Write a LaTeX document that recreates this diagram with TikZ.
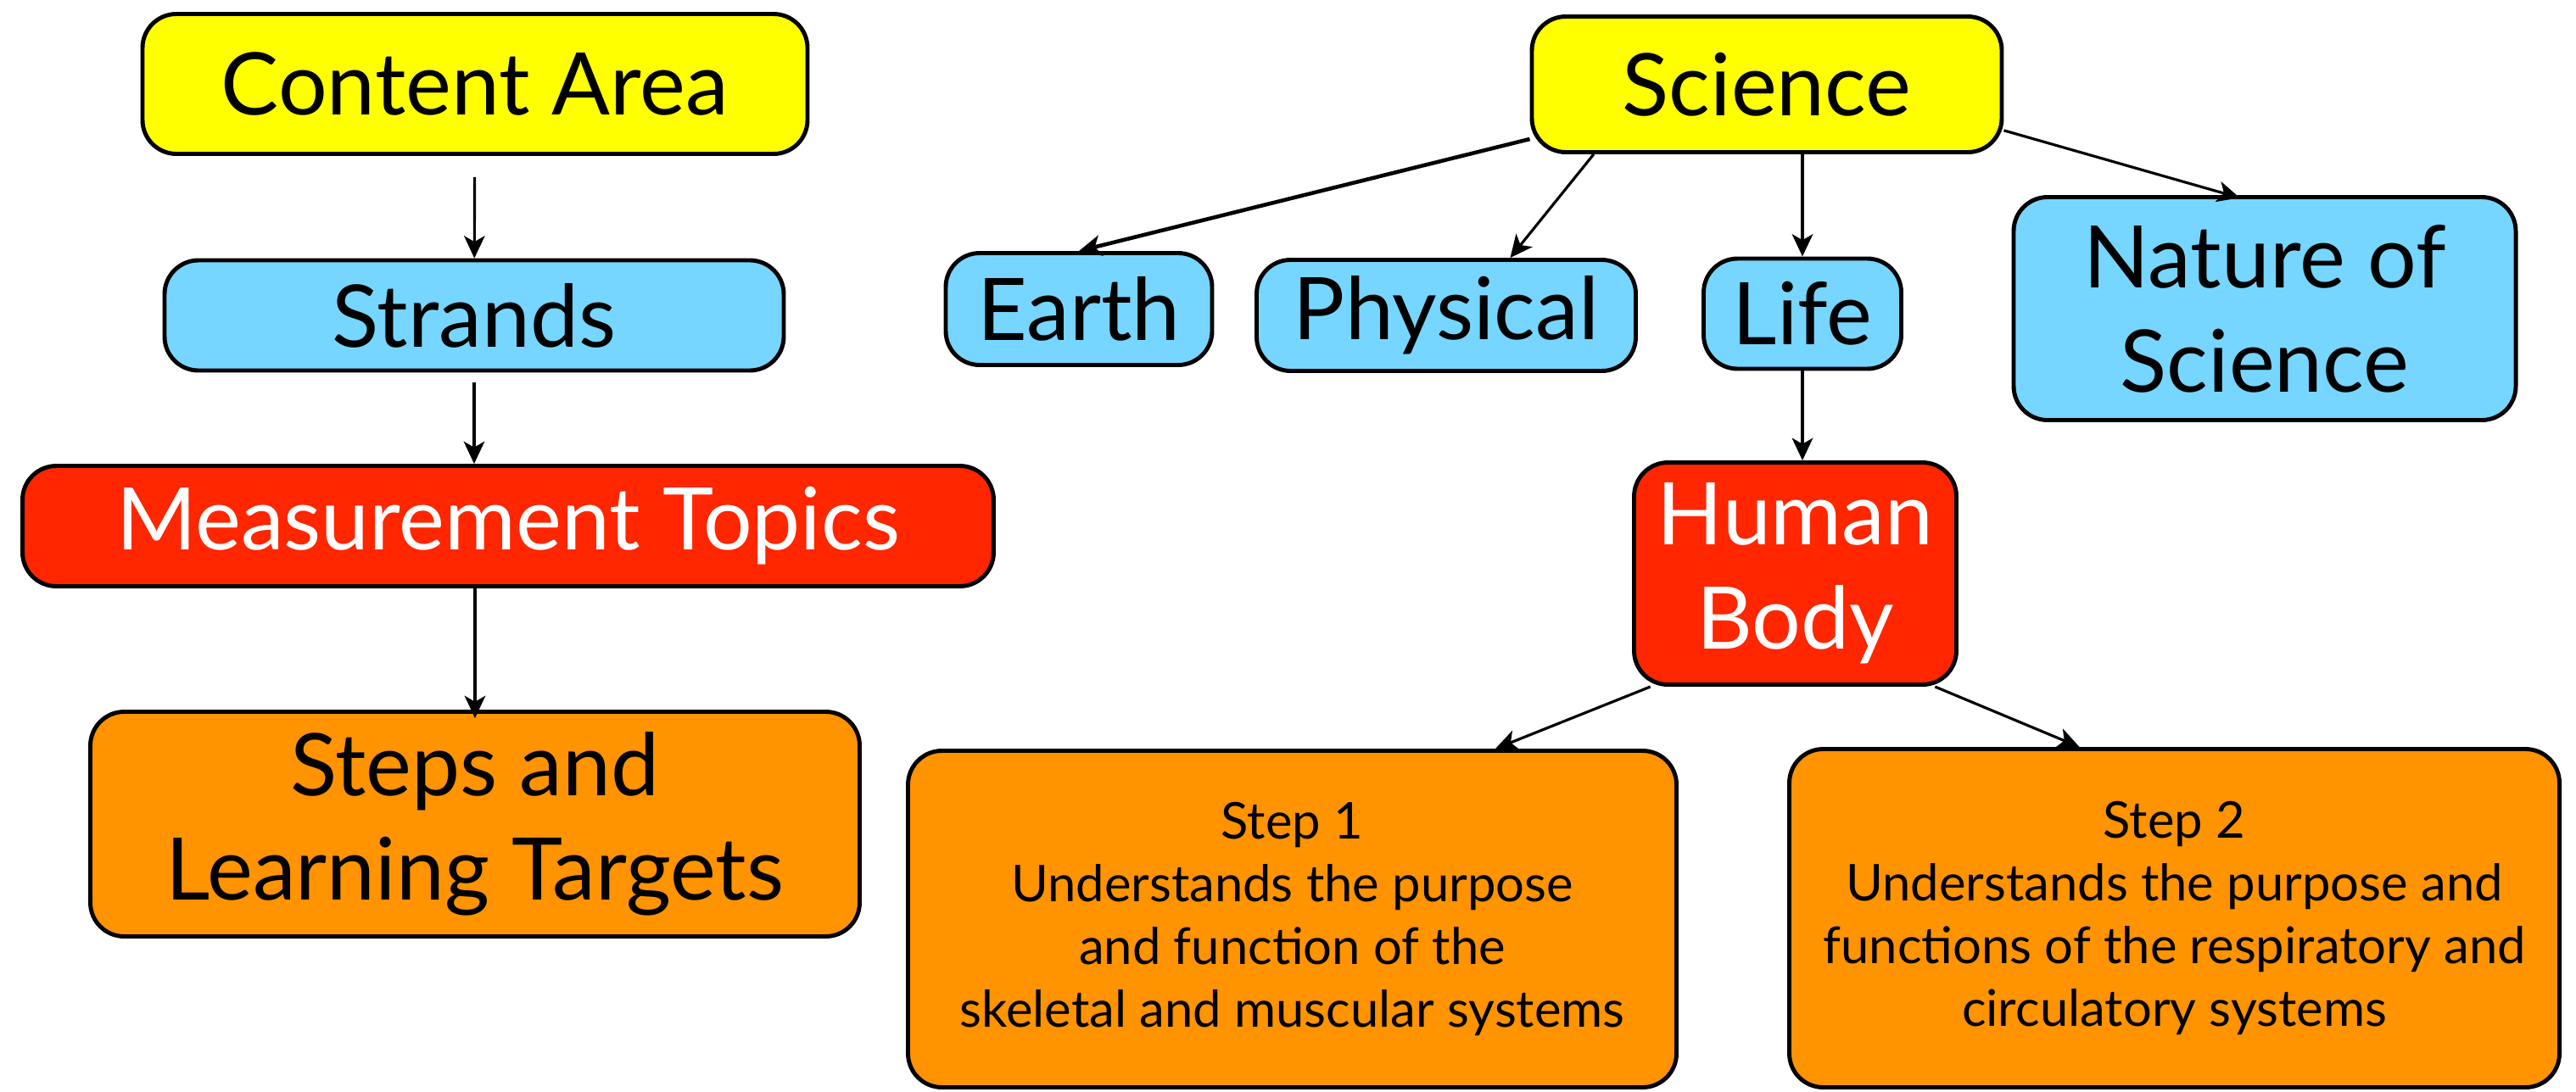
\documentclass[tikz,border=0pt]{standalone}
\usepackage{fontspec}
\setmainfont{Lato}
\usepackage{tikz}
\usetikzlibrary{arrows.meta}
\definecolor{areayellow}{HTML}{FFFF00}
\definecolor{strandblue}{HTML}{76D6FF}
\definecolor{topicred}{HTML}{FF2600}
\definecolor{targetorange}{HTML}{FF9300}

\begin{document}
\begin{tikzpicture}[every node/.style={font=\fontsize{29}{35}\selectfont}, >={Stealth[length=7.5pt, width=7pt, inset=2pt]}, box/.style={draw, line width=1.4pt, rounded corners=0.4cm, align=center, inner sep=0pt}, area/.style={box, fill=areayellow}, strand/.style={box, fill=strandblue}, topic/.style={box, fill=topicred, text=white}, target/.style={box, fill=targetorange}, small/.style={font=\fontsize{17}{21}\selectfont}, link/.style={->, line width=0.9pt}]
	\useasboundingbox (0,0) rectangle (30.37,-12.87);
	% left column: the general scheme
	\node[area, minimum width=7.84cm, minimum height=1.65cm] (ca) at (5.60,-0.99) {Content Area};
	\node[strand, minimum width=7.30cm, minimum height=1.30cm] (strands) at (5.59,-3.72) {Strands};
	\node[topic, minimum width=11.45cm, minimum height=1.42cm] (mt) at (5.99,-6.205) {Measurement Topics};
	\node[target, minimum width=9.07cm, minimum height=2.65cm] (slt) at (5.60,-9.72) {Steps and\\Learning Targets};
	% right side: the science example
	\node[area, minimum width=5.54cm, minimum height=1.60cm] (sci) at (20.83,-0.995) {Science};
	\node[strand, minimum width=3.14cm, minimum height=1.32cm] (earth) at (12.72,-3.645) {Earth};
	\node[strand, minimum width=4.47cm, minimum height=1.31cm] (phys) at (17.05,-3.72) {Physical};
	\node[strand, minimum width=2.33cm, minimum height=1.30cm] (life) at (21.25,-3.70) {Life};
	\node[strand, minimum width=5.92cm, minimum height=2.63cm] (nos) at (26.70,-3.64) {Nature of\\Science};
	\node[topic, minimum width=3.80cm, minimum height=2.62cm] (hb) at (21.165,-6.765) {Human\\Body};
	\node[target, small, minimum width=9.06cm, minimum height=3.97cm] (step1) at (15.235,-10.84) {Step 1\\Understands the purpose\\and function of the\\skeletal and muscular systems};
	\node[target, small, minimum width=9.08cm, minimum height=3.99cm] (step2) at (25.635,-10.83) {Step 2\\Understands the purpose and\\functions of the respiratory and\\circulatory systems};
	\draw[link, shorten <=0.25cm] (ca) -- (strands);
	\draw[link, shorten <=0.12cm] (strands) -- (strands |- mt.north);
	\draw[link, shorten >=-0.1cm] (mt.south -| slt) -- (slt);
	\draw[link, line width=1.3pt] (sci.193) -- (earth.north);
	\draw[link] (sci.202) -- (phys.42);
	\draw[link] (sci.south -| life) -- (life);
	\draw[link, shorten >=-0.12cm] (sci.349) -- (nos.107);
	\draw[link] (life.south) -- (life.south |- hb.north);
	\draw[link] (hb.218) -- (step1.40);
	\draw[link] (hb.321) -- (step2.119);
\end{tikzpicture}
\end{document}
